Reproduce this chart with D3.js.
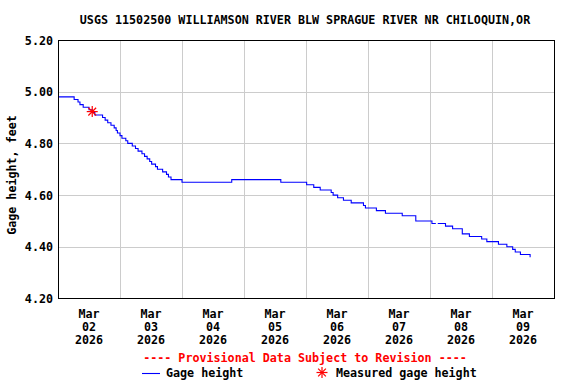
<!DOCTYPE html>
<html><head><meta charset="utf-8">
<script src="https://cdn.jsdelivr.net/npm/d3@7"></script>
<style>
body{margin:0;background:#fff}
svg text{font-family:"DejaVu Sans Mono","Liberation Mono",monospace;font-weight:bold;font-size:11.7px;fill:#000}
</style>
</head><body>
<svg id="chart" width="576" height="384"></svg>
<script>
const title = "USGS 11502500 WILLIAMSON RIVER BLW SPRAGUE RIVER NR CHILOQUIN,OR";
const yTitle = "Gage height, feet";
const provisional = "---- Provisional Data Subject to Revision ----";
const legendLabels = ["Gage height", "Measured gage height"];

// Hours after 2026-03-02 00:00 at which the gage height changes
const hours = [0, 6.25, 7.75, 8.5, 9.75, 12.0, 13.25, 14.25, 17.25, 18.25, 19.25, 20.5, 21.75, 22.5, 23.0,
  24.0, 24.75, 26.25, 27.0, 28.75, 30.0, 31.0, 32.5, 33.5, 34.5, 35.5, 36.25, 37.75, 38.5, 40.5, 42.0, 42.75, 43.75,
  48.0, 67.25, 86.25, 96.25, 99.0, 101.5, 105.75, 106.5, 108.25, 110.5, 113.5, 118.25, 119.0, 123.25, 126.75,
  133.25, 138.5, 144.75, 146.25, 146.5, 147.0, 150.0, 152.75, 156.5, 159.25, 164.0, 166.0, 170.5, 173.75,
  176.0, 177.0, 179.0, 182.75];
const gageHeight = [4.98, 4.97, 4.96, 4.95, 4.94, 4.93, 4.92, 4.91, 4.90, 4.89, 4.88, 4.87, 4.86, 4.85, 4.84,
  4.83, 4.82, 4.81, 4.80, 4.79, 4.78, 4.77, 4.76, 4.75, 4.74, 4.73, 4.72, 4.71, 4.70, 4.69, 4.68, 4.67, 4.66,
  4.65, 4.66, 4.65, 4.64, 4.63, 4.62, 4.61, 4.60, 4.59, 4.58, 4.57, 4.56, 4.55, 4.54, 4.53,
  4.52, 4.50, 4.49, 4.49, null, 4.49, 4.48, 4.47, 4.45, 4.44, 4.43, 4.42, 4.41, 4.40,
  4.39, 4.38, 4.37, 4.36];

const measuredHours = [13.25];
const measuredHeight = [4.923];

const yTicks = [4.20, 4.40, 4.60, 4.80, 5.00, 5.20];
const dayStarts = ["2026-03-02","2026-03-03","2026-03-04","2026-03-05","2026-03-06","2026-03-07","2026-03-08","2026-03-09","2026-03-10"];

const svg = d3.select("#chart");
const L = 58, R = 554, T = 40, B = 298.5;
const t0 = Date.parse(dayStarts[0] + "T00:00:00Z");
const toDate = h => new Date(t0 + h * 3600e3);
const days = dayStarts.map(s => new Date(s + "T00:00:00Z"));

const x = d3.scaleUtc().domain([days[0], days[days.length - 1]]).range([L, R]);
const y = d3.scaleLinear().domain([4.2, 5.2]).range([B, T]);
const crisp = v => Math.round(v) + 0.5;

// grid
const g = svg.append("g");
g.selectAll(".vg").data(days.slice(1, -1)).join("line")
  .attr("x1", d => crisp(x(d))).attr("x2", d => crisp(x(d)))
  .attr("y1", T).attr("y2", B).attr("stroke", "#cccccc").attr("stroke-width", 1);
g.selectAll(".hg").data(yTicks.slice(1, -1)).join("line")
  .attr("x1", L).attr("x2", R).attr("y1", d => crisp(y(d))).attr("y2", d => crisp(y(d)))
  .attr("stroke", "#cccccc").attr("stroke-width", 1);

// data line
const pts = hours.map((h, i) => ({ t: toDate(h), v: gageHeight[i] }));
const line = d3.line().defined(d => d.v != null)
  .x(d => x(d.t)).y(d => y(d.v)).curve(d3.curveStepAfter);
svg.append("path").datum(pts).attr("d", line)
  .attr("fill", "none").attr("stroke", "#0000ff").attr("stroke-width", 1.1);

// measured point
function star(sel, cx, cy, r) {
  const gg = sel.append("g").attr("transform", `translate(${cx},${cy})`);
  [0, 45, 90, 135].forEach(a => {
    const rad = a * Math.PI / 180;
    gg.append("line").attr("x1", -r * Math.cos(rad)).attr("y1", -r * Math.sin(rad))
      .attr("x2", r * Math.cos(rad)).attr("y2", r * Math.sin(rad))
      .attr("stroke", "#ff0000").attr("stroke-width", 1.2);
  });
}
measuredHours.forEach((h, i) => star(svg, x(toDate(h)), y(measuredHeight[i]), 5.5));

// frame
svg.append("rect").attr("x", L + 0.5).attr("y", T + 0.5).attr("width", R - L).attr("height", B - T - 0.5)
  .attr("fill", "none").attr("stroke", "#000").attr("stroke-width", 1);

// y tick labels
svg.selectAll(".yl").data(yTicks).join("text")
  .attr("x", 53).attr("y", d => y(d) + 4.5).attr("text-anchor", "end")
  .text(d => d3.format(".2f")(d));

// x tick labels at noon of each day
const noon = days.slice(0, -1).map(d => new Date(+d + 12 * 3600e3));
const fmts = [d3.utcFormat("%b"), d3.utcFormat("%d"), d3.utcFormat("%Y")];
noon.forEach(d => {
  const tx = svg.append("text").attr("text-anchor", "middle");
  fmts.forEach((f, k) => tx.append("tspan").attr("x", x(d)).attr("y", 318 + k * 13).text(f(d)));
});

// titles
svg.append("text").attr("x", 305).attr("y", 24).attr("text-anchor", "middle").text(title);
svg.append("text").attr("transform", "translate(16,175) rotate(-90)").attr("text-anchor", "middle").text(yTitle);
svg.append("text").attr("x", 305).attr("y", 362).attr("text-anchor", "middle").style("fill", "#ff0000").text(provisional);

// legend
svg.append("line").attr("x1", 142).attr("x2", 160).attr("y1", 373.5).attr("y2", 373.5)
  .attr("stroke", "#0000ff").attr("stroke-width", 1.1);
svg.append("text").attr("x", 166).attr("y", 377).text(legendLabels[0]);
star(svg, 322, 372.5, 5.5);
svg.append("text").attr("x", 336).attr("y", 377).text(legendLabels[1]);
</script>
</body></html>
